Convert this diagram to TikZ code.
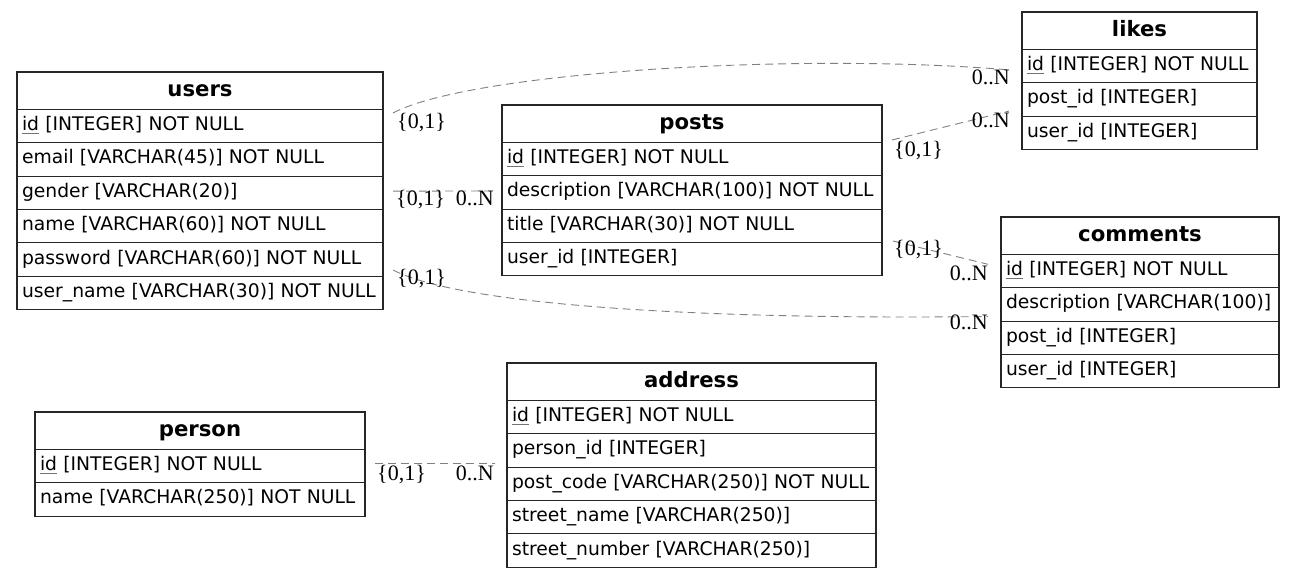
\documentclass[tikz,border=0pt]{standalone}
\usepackage{fontspec}
\setmainfont{DejaVu Sans}
\newfontfamily\cardfont{Liberation Serif}

% primary-key field: text with a grey rule underneath
\newcommand\pkey[1]{\leavevmode\setbox0\hbox{#1}\rlap{\color{black!55}\rule[-3.5pt]{\wd0}{1pt}}\box0\relax}

\tikzset{
  tbl/.style={draw=black!85, line width=1.1pt, rectangle, anchor=north west,
              inner xsep=5pt, inner ysep=0pt, outer sep=0pt},
  hdr/.style={tbl, minimum height=37.3pt, align=center,
              font=\fontsize{21.2}{25}\selectfont\bfseries, text height=15pt, text depth=4pt},
  fld/.style={tbl, minimum height=33.4pt, align=left,
              font=\fontsize{18.75}{22}\selectfont, text height=13pt, text depth=4pt},
  rel/.style={draw=black!50, line width=0.9pt, dash pattern=on 8pt off 5pt},
  card/.style={font=\cardfont\fontsize{22}{26}\selectfont, inner sep=0pt},
}

\begin{document}
\begin{tikzpicture}[x=1pt, y=-1pt]
\useasboundingbox (0,0) rectangle (1295,577);

% ---------- users ----------
\node[hdr, text width=356pt] (users) at (17,72) {users};
\node[fld, text width=356pt] (users-1) at (users.south west) {\pkey{id} [INTEGER] NOT NULL};
\node[fld, text width=356pt] (users-2) at (users-1.south west) {email [VARCHAR(45)] NOT NULL};
\node[fld, text width=356pt] (users-3) at (users-2.south west) {gender [VARCHAR(20)]};
\node[fld, text width=356pt] (users-4) at (users-3.south west) {name [VARCHAR(60)] NOT NULL};
\node[fld, text width=356pt] (users-5) at (users-4.south west) {password [VARCHAR(60)] NOT NULL};
\node[fld, text width=356pt] (users-6) at (users-5.south west) {user\_name [VARCHAR(30)] NOT NULL};

% ---------- posts ----------
\node[hdr, text width=370pt] (posts) at (502,105) {posts};
\node[fld, text width=370pt] (posts-1) at (posts.south west) {\pkey{id} [INTEGER] NOT NULL};
\node[fld, text width=370pt] (posts-2) at (posts-1.south west) {description [VARCHAR(100)] NOT NULL};
\node[fld, text width=370pt] (posts-3) at (posts-2.south west) {title [VARCHAR(30)] NOT NULL};
\node[fld, text width=370pt] (posts-4) at (posts-3.south west) {user\_id [INTEGER]};

% ---------- likes ----------
\node[hdr, text width=225pt] (likes) at (1022,12) {likes};
\node[fld, text width=225pt] (likes-1) at (likes.south west) {\pkey{id} [INTEGER] NOT NULL};
\node[fld, text width=225pt] (likes-2) at (likes-1.south west) {post\_id [INTEGER]};
\node[fld, text width=225pt] (likes-3) at (likes-2.south west) {user\_id [INTEGER]};

% ---------- comments ----------
\node[hdr, text width=268pt] (comments) at (1001,217) {comments};
\node[fld, text width=268pt] (comments-1) at (comments.south west) {\pkey{id} [INTEGER] NOT NULL};
\node[fld, text width=268pt] (comments-2) at (comments-1.south west) {description [VARCHAR(100)]};
\node[fld, text width=268pt] (comments-3) at (comments-2.south west) {post\_id [INTEGER]};
\node[fld, text width=268pt] (comments-4) at (comments-3.south west) {user\_id [INTEGER]};

% ---------- person ----------
\node[hdr, text width=320pt] (person) at (35,412) {person};
\node[fld, text width=320pt] (person-1) at (person.south west) {\pkey{id} [INTEGER] NOT NULL};
\node[fld, text width=320pt] (person-2) at (person-1.south west) {name [VARCHAR(250)] NOT NULL};

% ---------- address ----------
\node[hdr, text width=359pt] (address) at (507,363) {address};
\node[fld, text width=359pt] (address-1) at (address.south west) {\pkey{id} [INTEGER] NOT NULL};
\node[fld, text width=359pt] (address-2) at (address-1.south west) {person\_id [INTEGER]};
\node[fld, text width=359pt] (address-3) at (address-2.south west) {post\_code [VARCHAR(250)] NOT NULL};
\node[fld, text width=359pt] (address-4) at (address-3.south west) {street\_name [VARCHAR(250)]};
\node[fld, text width=359pt] (address-5) at (address-4.south west) {street\_number [VARCHAR(250)]};

% ---------- relationship end points ----------
\coordinate (r1a) at ([shift={(10,3.7)}]users-1.north east);
\coordinate (r1b) at ([shift={(-12,20.7)}]likes-1.north west);
\coordinate (r2a) at ([shift={(10,15)}]users-3.north east);
\coordinate (r2b) at ([shift={(-12,15.3)}]posts-2.north west);
\coordinate (r3a) at ([shift={(10,-6.3)}]users-6.north east);
\coordinate (r3b) at ([shift={(-13,28.8)}]comments-2.north west);
\coordinate (r4a) at ([shift={(10,-2.3)}]posts-1.north east);
\coordinate (r4b) at ([shift={(-13,28.3)}]likes-2.north west);
\coordinate (r5a) at ([shift={(11,-1.5)}]posts-4.north east);
\coordinate (r5b) at ([shift={(-13,10)}]comments-1.north west);
\coordinate (r6a) at ([shift={(10,14)}]person-1.north east);
\coordinate (r6b) at ([shift={(-12,29.6)}]address-2.north west);

% ---------- relationships ----------
\draw[rel] (r1a) .. controls (470,72) and (800,52) .. (r1b);
\draw[rel] (r2a) -- (r2b);
\draw[rel] (r3a) .. controls (460,305) and (700,320) .. (r3b);
\draw[rel] (r4a) -- (r4b);
\draw[rel] (r5a) -- (r5b);
\draw[rel] (r6a) -- (r6b);

% ---------- cardinalities ----------
\node[card, anchor=base west] (c1a) at (397,129) {\{0,1\}};
\node[card, anchor=base east] (c1b) at (1010,84.5) {0..N};
\node[card, anchor=base west] (c2a) at (396,206) {\{0,1\}};
\node[card, anchor=base east] (c2b) at (494,206) {0..N};
\node[card, anchor=base west] (c3a) at (397,284) {\{0,1\}};
\node[card, anchor=base east] (c3b) at (988,329.5) {0..N};
\node[card, anchor=base west] (c4a) at (894,157) {\{0,1\}};
\node[card, anchor=base east] (c4b) at (1010,127.5) {0..N};
\node[card, anchor=base west] (c5a) at (894,255) {\{0,1\}};
\node[card, anchor=base east] (c5b) at (988,280.5) {0..N};
\node[card, anchor=base west] (c6a) at (377,480.5) {\{0,1\}};
\node[card, anchor=base east] (c6b) at (494,480.5) {0..N};
\end{tikzpicture}
\end{document}
